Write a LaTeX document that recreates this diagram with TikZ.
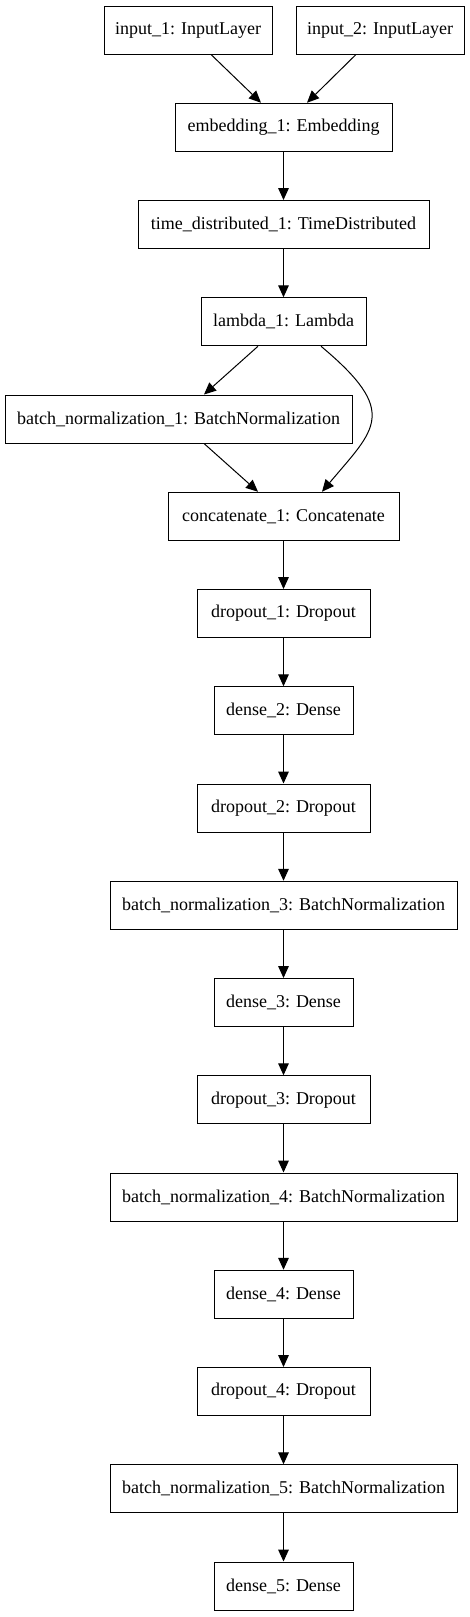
\documentclass[tikz,border=0pt]{standalone}
\usepackage{fontspec}
\setmainfont{Liberation Serif}
\usetikzlibrary{arrows.meta,calc}

\tikzset{
  layer/.style={draw,line width=0.75pt,minimum height=36pt,inner xsep=0pt,
    font=\fontsize{13.5}{16}\selectfont},
  edge/.style={line width=0.75pt,-{Triangle[length=9pt,width=8pt]}}
}

\begin{document}
\begin{tikzpicture}[x=0.75pt,y=-0.75pt]
			\useasboundingbox (0,0) rectangle (469,1617);
			% inputs
			\node[layer,minimum width=126pt] (in1) at (188,30) {input\_1: InputLayer};
			\node[layer,minimum width=126pt] (in2) at (380,30) {input\_2: InputLayer};
			\node[layer,minimum width=162.75pt] (emb) at (283.5,127.25) {embedding\_1: Embedding};
			\node[layer,minimum width=218.25pt] (td) at (283.5,224.5) {time\_distributed\_1: TimeDistributed};
			\node[layer,minimum width=123.75pt] (lam) at (283.5,321.75) {lambda\_1: Lambda};
			\node[layer,minimum width=260.25pt] (bn1) at (178.5,419) {batch\_normalization\_1: BatchNormalization};
			\node[layer,minimum width=173.25pt] (cat) at (283.5,516.25) {concatenate\_1: Concatenate};
			% dense part
			\node[layer,minimum width=129.75pt] (drop1) at (283.5,613.5) {dropout\_1: Dropout};
			\node[layer,minimum width=104.25pt] (dense2) at (283.5,710.75) {dense\_2: Dense};
			\node[layer,minimum width=129.75pt] (drop2) at (283.5,808) {dropout\_2: Dropout};
			\node[layer,minimum width=260.25pt] (bn3) at (283.5,905.25) {batch\_normalization\_3: BatchNormalization};
			\node[layer,minimum width=104.25pt] (dense3) at (283.5,1002.5) {dense\_3: Dense};
			\node[layer,minimum width=129.75pt] (drop3) at (283.5,1099.75) {dropout\_3: Dropout};
			\node[layer,minimum width=260.25pt] (bn4) at (283.5,1197) {batch\_normalization\_4: BatchNormalization};
			\node[layer,minimum width=104.25pt] (dense4) at (283.5,1294.25) {dense\_4: Dense};
			\node[layer,minimum width=129.75pt] (drop4) at (283.5,1391.5) {dropout\_4: Dropout};
			\node[layer,minimum width=260.25pt] (bn5) at (283.5,1488.75) {batch\_normalization\_5: BatchNormalization};
			\node[layer,minimum width=104.25pt] (dense5) at (283.5,1586) {dense\_5: Dense};
			% connections
			\draw[edge] ($(in1.south)+(23,0)$) -- ($(emb.north)+(-22.5,0)$);
			\draw[edge] ($(in2.south)+(-24,0)$) -- ($(emb.north)+(23.5,0)$);
			\draw[edge] ($(lam.south)+(-25.5,0)$) -- ($(bn1.north)+(25.5,0)$);
			\draw[edge] ($(bn1.south)+(25.5,0)$) -- ($(cat.north)+(-25.5,0)$);
			\draw[edge] ($(lam.south)+(37.5,0)$) .. controls +(79,66) and +(53,-63) .. ($(cat.north)+(38.5,0)$);
			\foreach \a/\b in {emb/td,td/lam,cat/drop1,drop1/dense2,dense2/drop2,drop2/bn3,bn3/dense3,dense3/drop3,drop3/bn4,bn4/dense4,dense4/drop4,drop4/bn5,bn5/dense5}
			\draw[edge] (\a) -- (\b);
\end{tikzpicture}
\end{document}
